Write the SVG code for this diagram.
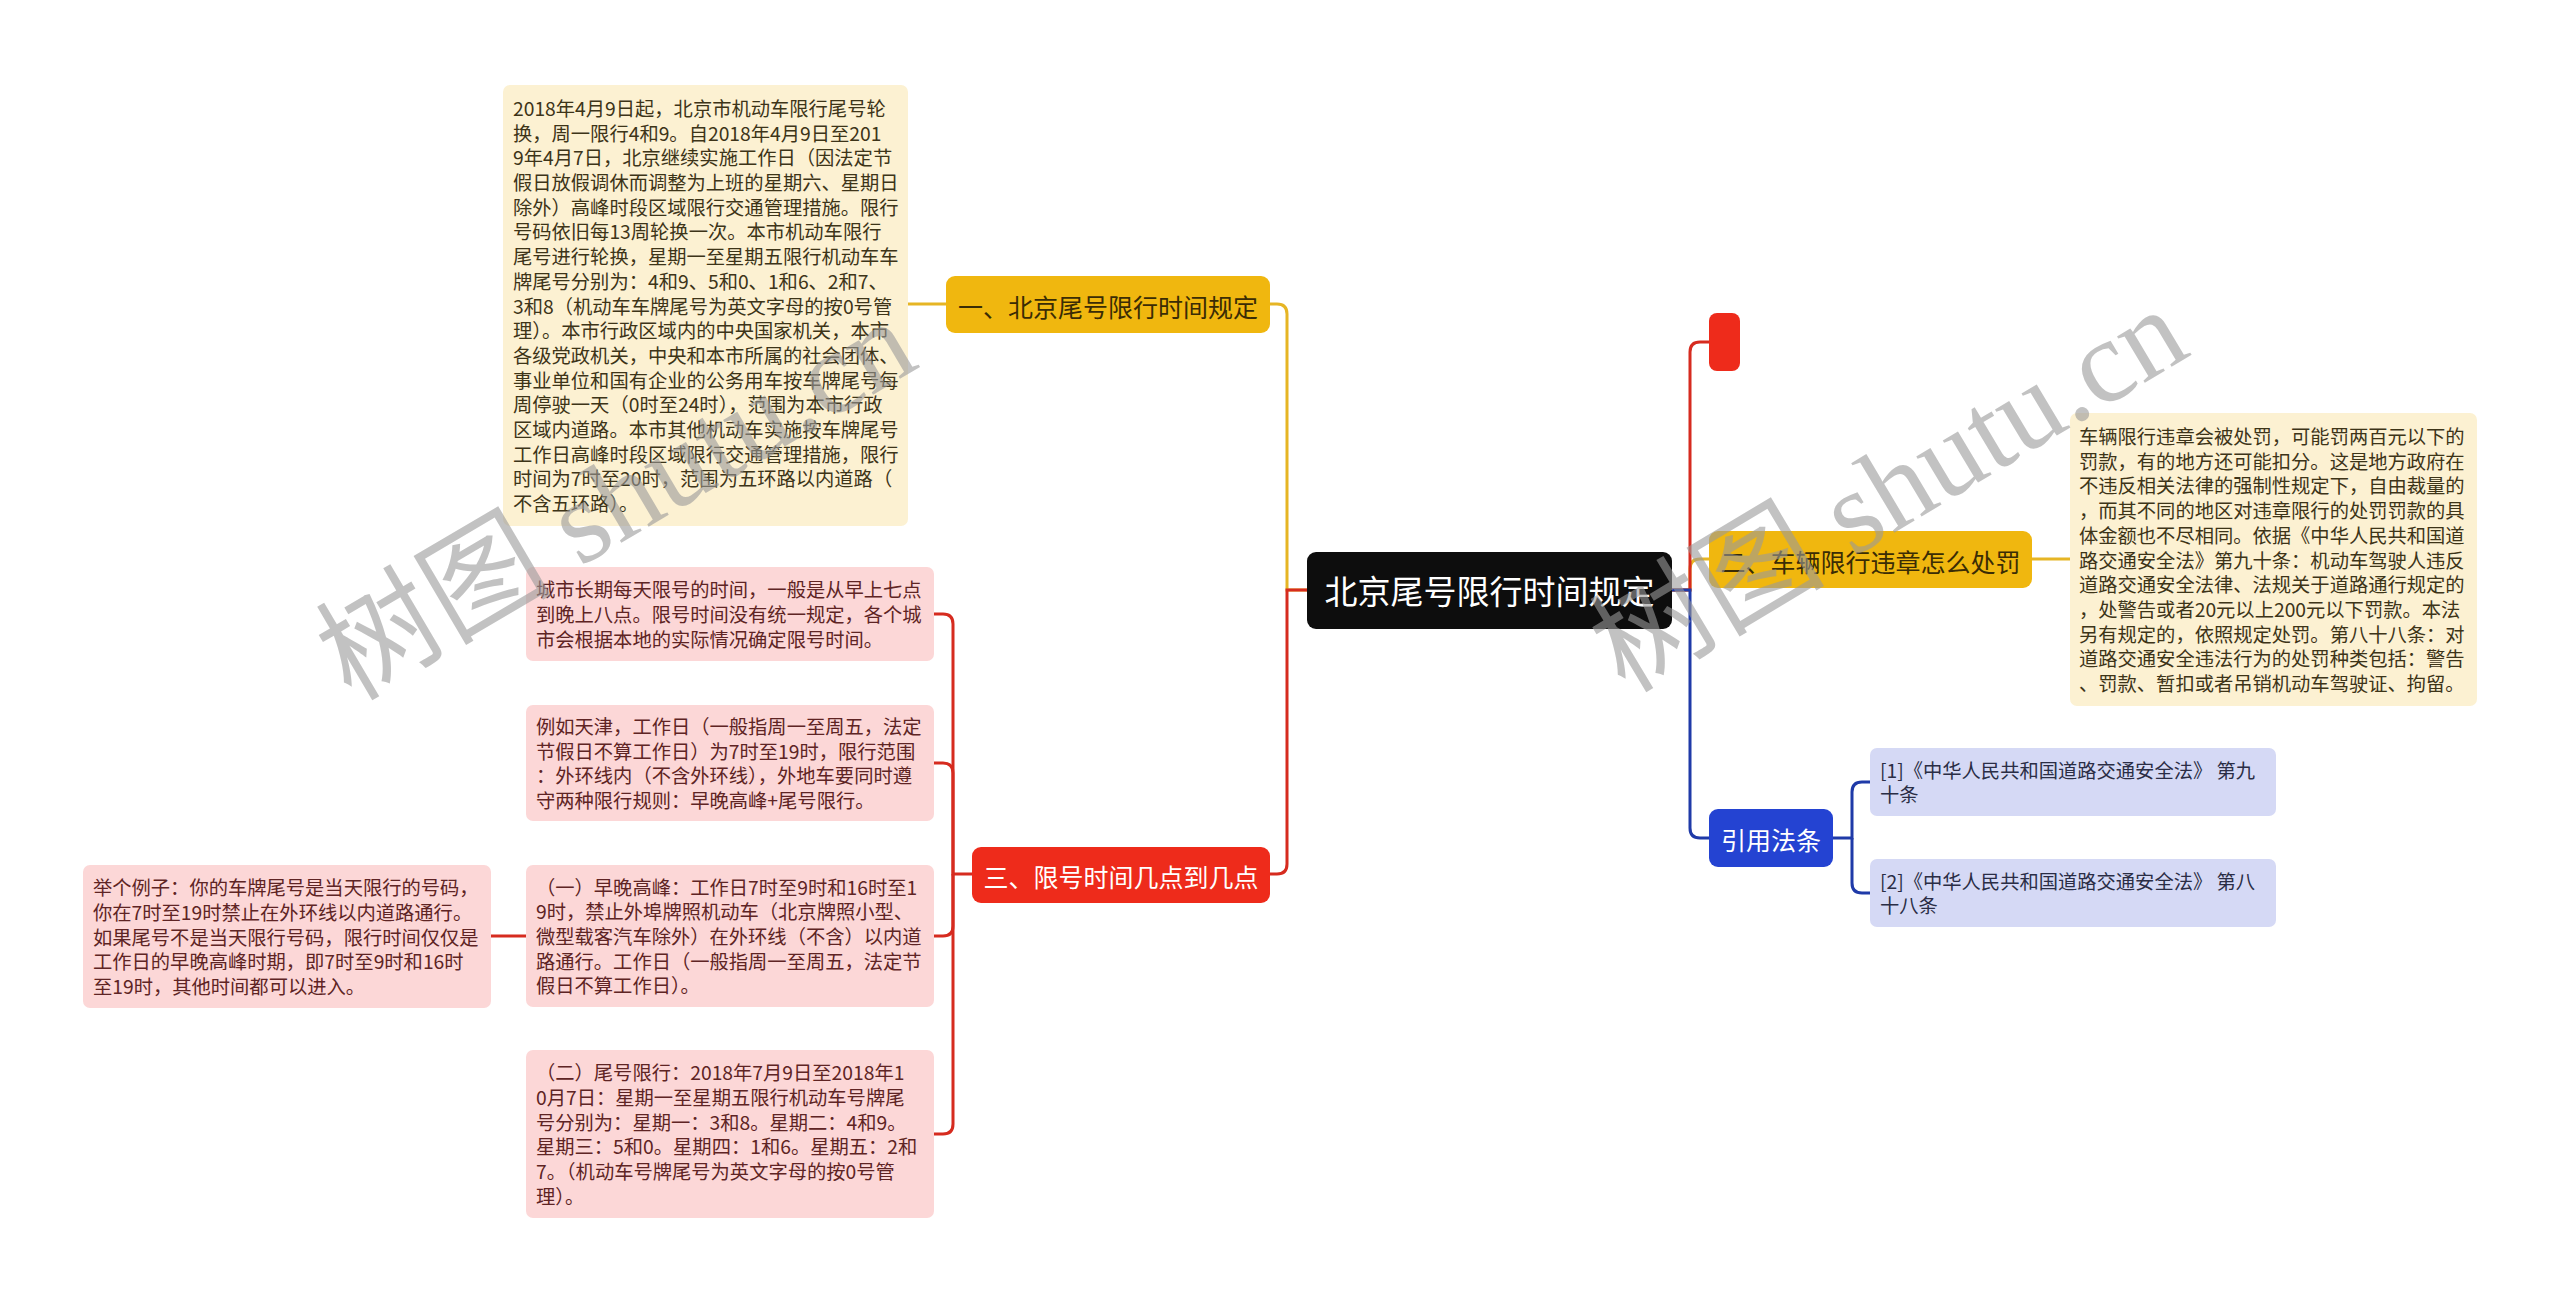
<svg xmlns="http://www.w3.org/2000/svg" width="2560" height="1303" viewBox="0 0 2560 1303">
<style>
text{font-family:"Noto Sans CJK SC","Noto Sans",sans-serif;dominant-baseline:central}
.body{font-size:19.3px}
.ty{fill:#3d3418}
.tr{fill:#5e2424}
.tb{fill:#2a2d45}
.big{font-size:25px;text-anchor:middle}
.cy{fill:none;stroke:#e6b525;stroke-width:3}
.cr{fill:none;stroke:#d62b1f;stroke-width:3}
.cb{fill:none;stroke:#1f3aa8;stroke-width:3}
.wm{font-family:"Liberation Serif","Noto Sans CJK SC",serif;font-size:118px;fill:#999;fill-opacity:0.6;dominant-baseline:alphabetic}
</style>
<rect width="2560" height="1303" fill="#fff"/>
<g id="connectors">
<path class="cy" d="M1307,590 H1287 V314 Q1287,304 1277,304 H1270"/>
<path class="cr" d="M1307,590 H1287 V864 Q1287,874 1277,874 H1270"/>
<path class="cy" d="M946,304 H908"/>
<path class="cr" d="M972,874 H953 V624 Q953,614 943,614 H934"/>
<path class="cr" d="M953,874 V773 Q953,763 943,763 H934"/>
<path class="cr" d="M953,874 V926 Q953,936 943,936 H934"/>
<path class="cr" d="M953,874 V1124 Q953,1134 943,1134 H934"/>
<path class="cr" d="M526,936 H491"/>
<path class="cy" d="M1672,590 H1690 V569 Q1690,559 1700,559 H1709"/>
<path class="cr" d="M1672,590 H1690 V352 Q1690,342 1700,342 H1709"/>
<path class="cb" d="M1672,590 H1690 V828 Q1690,838 1700,838 H1709"/>
<path class="cy" d="M2032,559 H2070"/>
<path class="cb" d="M1833,838 H1852 V792 Q1852,782 1862,782 H1870"/>
<path class="cb" d="M1852,838 V883 Q1852,893 1862,893 H1870"/>
</g>
<g id="root">
<rect x="1307" y="552" width="365" height="77" rx="9" fill="#0d0d0d"/>
<text x="1489.5" y="590" font-size="33" text-anchor="middle" fill="#fff">北京尾号限行时间规定</text>
</g>
<g id="branch1">
<rect x="946" y="276" width="324" height="57" rx="9" fill="#f0b70f"/>
<text class="big" x="1108" y="306" fill="#3a2c05">一、北京尾号限行时间规定</text>
</g>
<g id="branch1-text">
<rect x="503" y="85" width="405" height="441" rx="7" fill="#fcf1d2"/>
<text class="body ty">
<tspan x="513" y="107.9">2018年4月9日起，北京市机动车限行尾号轮</tspan>
<tspan x="513" y="132.6">换，周一限行4和9。自2018年4月9日至201</tspan>
<tspan x="513" y="157.3">9年4月7日，北京继续实施工作日（因法定节</tspan>
<tspan x="513" y="182.0">假日放假调休而调整为上班的星期六、星期日</tspan>
<tspan x="513" y="206.7">除外）高峰时段区域限行交通管理措施。限行</tspan>
<tspan x="513" y="231.4">号码依旧每13周轮换一次。本市机动车限行</tspan>
<tspan x="513" y="256.1">尾号进行轮换，星期一至星期五限行机动车车</tspan>
<tspan x="513" y="280.8">牌尾号分别为：4和9、5和0、1和6、2和7、</tspan>
<tspan x="513" y="305.5">3和8（机动车车牌尾号为英文字母的按0号管</tspan>
<tspan x="513" y="330.2">理）。本市行政区域内的中央国家机关，本市</tspan>
<tspan x="513" y="354.9">各级党政机关，中央和本市所属的社会团体、</tspan>
<tspan x="513" y="379.6">事业单位和国有企业的公务用车按车牌尾号每</tspan>
<tspan x="513" y="404.3">周停驶一天（0时至24时），范围为本市行政</tspan>
<tspan x="513" y="429.0">区域内道路。本市其他机动车实施按车牌尾号</tspan>
<tspan x="513" y="453.7">工作日高峰时段区域限行交通管理措施，限行</tspan>
<tspan x="513" y="478.4">时间为7时至20时，范围为五环路以内道路（</tspan>
<tspan x="513" y="503.1">不含五环路）。</tspan>
</text>
</g>
<g id="branch3">
<rect x="972" y="847" width="298" height="56" rx="9" fill="#ee2b1b"/>
<text class="big" x="1121" y="876" fill="#fff">三、限号时间几点到几点</text>
</g>
<g id="child1">
<rect x="526" y="567" width="408" height="94" rx="7" fill="#fcd7d7"/>
<text class="body tr">
<tspan x="536" y="589.3">城市长期每天限号的时间，一般是从早上七点</tspan>
<tspan x="536" y="614.0">到晚上八点。限号时间没有统一规定，各个城</tspan>
<tspan x="536" y="638.7">市会根据本地的实际情况确定限号时间。</tspan>
</text>
</g>
<g id="child2">
<rect x="526" y="705" width="408" height="116" rx="7" fill="#fcd7d7"/>
<text class="body tr">
<tspan x="536" y="726.0">例如天津，工作日（一般指周一至周五，法定</tspan>
<tspan x="536" y="750.7">节假日不算工作日）为7时至19时，限行范围</tspan>
<tspan x="536" y="775.4">：外环线内（不含外环线），外地车要同时遵</tspan>
<tspan x="536" y="800.1">守两种限行规则：早晚高峰+尾号限行。</tspan>
</text>
</g>
<g id="child3">
<rect x="526" y="865" width="408" height="142" rx="7" fill="#fcd7d7"/>
<text class="body tr">
<tspan x="536" y="886.6">（一）早晚高峰：工作日7时至9时和16时至1</tspan>
<tspan x="536" y="911.3">9时，禁止外埠牌照机动车（北京牌照小型、</tspan>
<tspan x="536" y="936.0">微型载客汽车除外）在外环线（不含）以内道</tspan>
<tspan x="536" y="960.7">路通行。工作日（一般指周一至周五，法定节</tspan>
<tspan x="536" y="985.4">假日不算工作日）。</tspan>
</text>
</g>
<g id="child4">
<rect x="526" y="1050" width="408" height="168" rx="7" fill="#fcd7d7"/>
<text class="body tr">
<tspan x="536" y="1072.3">（二）尾号限行：2018年7月9日至2018年1</tspan>
<tspan x="536" y="1097.0">0月7日：星期一至星期五限行机动车号牌尾</tspan>
<tspan x="536" y="1121.7">号分别为：星期一：3和8。星期二：4和9。</tspan>
<tspan x="536" y="1146.4">星期三：5和0。星期四：1和6。星期五：2和</tspan>
<tspan x="536" y="1171.1">7。（机动车号牌尾号为英文字母的按0号管</tspan>
<tspan x="536" y="1195.8">理）。</tspan>
</text>
</g>
<g id="example">
<rect x="83" y="865" width="408" height="143" rx="7" fill="#fcd7d7"/>
<text class="body tr">
<tspan x="93" y="887.1">举个例子：你的车牌尾号是当天限行的号码，</tspan>
<tspan x="93" y="911.8">你在7时至19时禁止在外环线以内道路通行。</tspan>
<tspan x="93" y="936.5">如果尾号不是当天限行号码，限行时间仅仅是</tspan>
<tspan x="93" y="961.2">工作日的早晚高峰时期，即7时至9时和16时</tspan>
<tspan x="93" y="985.9">至19时，其他时间都可以进入。</tspan>
</text>
</g>
<g id="red-empty">
<rect x="1709" y="313" width="31" height="58" rx="8" fill="#ee2b1b"/>
</g>
<g id="branch2">
<rect x="1709" y="531" width="323" height="57" rx="9" fill="#f0b70f"/>
<text class="big" x="1870.5" y="561" fill="#3a2c05">二、车辆限行违章怎么处罚</text>
</g>
<g id="branch2-text">
<rect x="2070" y="413" width="407" height="293" rx="7" fill="#fcf1d2"/>
<text class="body ty">
<tspan x="2079" y="436.0">车辆限行违章会被处罚，可能罚两百元以下的</tspan>
<tspan x="2079" y="460.7">罚款，有的地方还可能扣分。这是地方政府在</tspan>
<tspan x="2079" y="485.4">不违反相关法律的强制性规定下，自由裁量的</tspan>
<tspan x="2079" y="510.1">，而其不同的地区对违章限行的处罚罚款的具</tspan>
<tspan x="2079" y="534.8">体金额也不尽相同。依据《中华人民共和国道</tspan>
<tspan x="2079" y="559.5">路交通安全法》第九十条：机动车驾驶人违反</tspan>
<tspan x="2079" y="584.2">道路交通安全法律、法规关于道路通行规定的</tspan>
<tspan x="2079" y="608.9">，处警告或者20元以上200元以下罚款。本法</tspan>
<tspan x="2079" y="633.6">另有规定的，依照规定处罚。第八十八条：对</tspan>
<tspan x="2079" y="658.3">道路交通安全违法行为的处罚种类包括：警告</tspan>
<tspan x="2079" y="683.0">、罚款、暂扣或者吊销机动车驾驶证、拘留。</tspan>
</text>
</g>
<g id="refs">
<rect x="1709" y="809" width="124" height="58" rx="9" fill="#2443d2"/>
<text class="big" x="1771" y="839" fill="#fff">引用法条</text>
</g>
<g id="ref1">
<rect x="1870" y="748" width="406" height="68" rx="7" fill="#d5d9f5"/>
<text class="body tb">
<tspan x="1880" y="769.6">[1]《中华人民共和国道路交通安全法》 第九</tspan>
<tspan x="1880" y="794.3">十条</tspan>
</text>
</g>
<g id="ref2">
<rect x="1870" y="859" width="406" height="68" rx="7" fill="#d5d9f5"/>
<text class="body tb">
<tspan x="1880" y="880.6">[2]《中华人民共和国道路交通安全法》 第八</tspan>
<tspan x="1880" y="905.3">十八条</tspan>
</text>
</g>
<g id="watermarks">
<text class="wm" transform="translate(351,702) rotate(-30.5)">树图 shutu.cn</text>
<text class="wm" transform="translate(1625,694) rotate(-30.9)">树图 shutu.cn</text>
</g>
</svg>
